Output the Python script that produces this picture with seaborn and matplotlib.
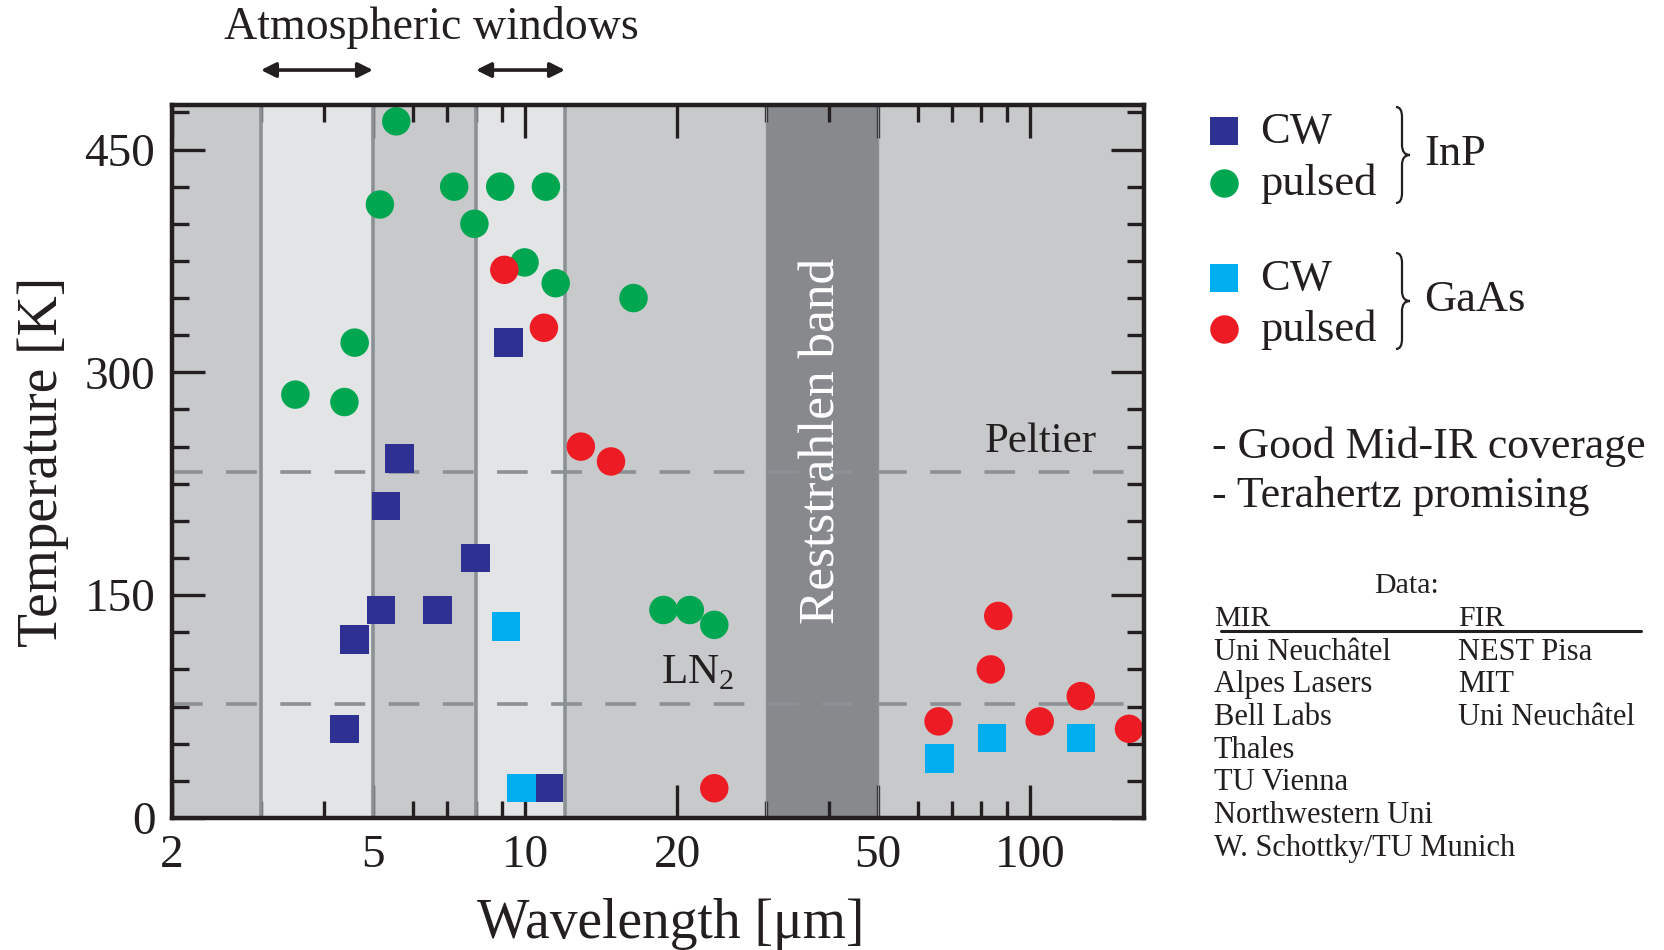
import numpy as np
import pandas as pd
import matplotlib.pyplot as plt
import seaborn as sns
from matplotlib.path import Path
from matplotlib.patches import PathPatch
from matplotlib.ticker import FixedLocator, NullFormatter, LogLocator, FixedFormatter

# ================= DATOS =================
inp_cw_wl = [4.39, 4.6, 5.19, 5.3, 5.64, 6.71, 7.98, 9.28, 11.15]
inp_cw_t = [60, 120, 140, 210, 242, 140, 175, 320, 20]

inp_pulsed_wl = [3.51, 4.39, 4.6, 5.16, 5.56, 7.24, 7.94, 8.93, 9.98, 11.0, 11.5, 16.4, 18.8, 21.2, 23.7]
inp_pulsed_t = [285, 280, 320, 413, 469, 425, 400, 425, 374, 425, 360, 350, 140, 140, 130]

gaas_cw_wl = [9.18, 9.84, 66.2, 84.0, 126.0]
gaas_cw_t = [129, 20, 40, 54, 54]

gaas_pulsed_wl = [9.1, 10.9, 12.9, 14.8, 23.7, 65.9, 86.5, 83.6, 104.5, 126.0, 157.0]
gaas_pulsed_t = [369, 330, 250, 240, 20, 65, 136, 100, 65, 82, 60]

ventanas = [(3, 5), (8, 12)]          # ventanas atmosféricas [µm]
reststrahlen = (30, 50)
t_peltier = 233
t_ln2 = 77

x_ticks = [2, 5, 10, 20, 50, 100]
y_ticks = [0, 150, 300, 450]

mir = ["Uni Neuchâtel", "Alpes Lasers", "Bell Labs", "Thales", "TU Vienna",
       "Northwestern Uni", "W. Schottky/TU Munich"]
fir = ["NEST Pisa", "MIT", "Uni Neuchâtel"]

# ================= COLORES =================
AZUL = "#2E3192"
VERDE = "#00A650"
CELESTE = "#00AEEF"
ROJO = "#ED1C24"
GRIS_BASE = "#C8C9CB"
GRIS_CLARO = "#E3E4E6"
GRIS_OSCURO = "#87898C"
GRIS_LINEA = "#8B9195"
NEGRO = "#231F20"

df = pd.concat([
    pd.DataFrame({"wl": inp_cw_wl, "T": inp_cw_t, "grupo": "InP CW"}),
    pd.DataFrame({"wl": inp_pulsed_wl, "T": inp_pulsed_t, "grupo": "InP pulsed"}),
    pd.DataFrame({"wl": gaas_cw_wl, "T": gaas_cw_t, "grupo": "GaAs CW"}),
    pd.DataFrame({"wl": gaas_pulsed_wl, "T": gaas_pulsed_t, "grupo": "GaAs pulsed"}),
], ignore_index=True)

paleta = {"InP CW": AZUL, "InP pulsed": VERDE, "GaAs CW": CELESTE, "GaAs pulsed": ROJO}
marcadores = {"InP CW": "s", "InP pulsed": "o", "GaAs CW": "s", "GaAs pulsed": "o"}

sns.set_theme(style="ticks")
plt.rcParams["font.family"] = ["Liberation Serif", "DejaVu Serif"]
plt.rcParams["mathtext.fontset"] = "custom"
plt.rcParams["mathtext.rm"] = "Liberation Serif"

fig = plt.figure(figsize=(16.65, 9.5), dpi=100)
ax = fig.add_axes([0.1033, 0.139, 0.5837, 0.7505])
ax.set_facecolor(GRIS_BASE)

ax.set_xscale("log")
ax.set_xlim(2, 168)
ax.set_ylim(0, 480)

# Fondos: ventanas y banda Reststrahlen
for a, b in ventanas:
    ax.axvspan(a, b, color=GRIS_CLARO, zorder=0.5, lw=0)
    for v in (a, b):
        ax.axvline(v, color=GRIS_LINEA, lw=2.6, zorder=1)
ax.axvspan(*reststrahlen, color=GRIS_OSCURO, zorder=0.5, lw=0)
for v in reststrahlen:
    ax.axvline(v, color=GRIS_LINEA, lw=1.0, zorder=1)

for t in (t_peltier, t_ln2):
    ax.axhline(t, color=GRIS_LINEA, lw=2.6, ls=(0, (8.5, 6.5)), zorder=1.5)

ax.text(np.sqrt(reststrahlen[0] * reststrahlen[1]), 254, "Reststrahlen band",
        rotation=90, color="white", fontsize=37, ha="center", va="center", zorder=1.2)
ax.text(105, 253, "Peltier", fontsize=31, ha="center", va="center", color=NEGRO)
ax.text(22, 98, r"LN$_\mathrm{2}$", fontsize=31, ha="center", va="center", color=NEGRO)

# Puntos
sns.scatterplot(data=df, x="wl", y="T", hue="grupo", style="grupo", palette=paleta,
                markers=marcadores, s=420, linewidth=0, legend=False, ax=ax, zorder=5)

# Ejes y ticks
ax.xaxis.set_major_locator(FixedLocator(x_ticks))
ax.xaxis.set_major_formatter(FixedFormatter([str(v) for v in x_ticks]))
ax.xaxis.set_minor_locator(LogLocator(base=10, subs=np.arange(2, 10)))
ax.xaxis.set_minor_formatter(NullFormatter())
ax.yaxis.set_major_locator(FixedLocator(y_ticks))
ax.yaxis.set_minor_locator(FixedLocator(np.arange(0, 480, 25)))
ax.tick_params(which="both", direction="in", top=True, right=True, width=2.4, color=NEGRO)
ax.tick_params(which="major", length=24, labelsize=34, pad=12, labelcolor=NEGRO)
ax.tick_params(which="minor", length=12)
for s in ax.spines.values():
    s.set_linewidth(3.2)
    s.set_color(NEGRO)
    s.set_zorder(6)

ax.set_xlabel("Wavelength [μm]", fontsize=40, color=NEGRO)
ax.set_ylabel("Temperature [K]", fontsize=40, color=NEGRO)
ax.xaxis.set_label_coords(0.513, -0.112)
ax.yaxis.set_label_coords(-0.106, 0.5)

# Ventanas atmosféricas (flechas)
trans = ax.get_xaxis_transform()
for a, b in ventanas:
    ax.annotate("", xy=(a, 1.049), xytext=(b, 1.049), xycoords=trans, textcoords=trans,
                arrowprops=dict(arrowstyle="<|-|>", color=NEGRO, lw=2.6,
                                mutation_scale=22, shrinkA=0, shrinkB=0))
ax.text(6.52, 1.108, "Atmospheric windows", transform=trans, fontsize=33,
        ha="center", va="center", color=NEGRO)

# ================= LEYENDA Y TEXTOS (capa en píxeles) =================
capa = fig.add_axes([0, 0, 1, 1], facecolor="none")
capa.set_xlim(0, 1665)
capa.set_ylim(950, 0)
capa.axis("off")


def llave(x, yt, yb, w=8):
    ym = (yt + yb) / 2
    verts = [(x - 6, yt), (x, yt), (x, yt + 10), (x, ym - 10), (x, ym), (x + w, ym),
             (x, ym), (x, ym + 10), (x, yb - 10), (x, yb), (x - 6, yb)]
    codes = [Path.MOVETO, Path.CURVE3, Path.CURVE3, Path.LINETO, Path.CURVE3, Path.CURVE3,
             Path.CURVE3, Path.CURVE3, Path.LINETO, Path.CURVE3, Path.CURVE3]
    capa.add_patch(PathPatch(Path(verts, codes), fc="none", ec=NEGRO, lw=1.6))


leyenda = [("CW", AZUL, "s", 131), ("pulsed", VERDE, "o", 183),
           ("CW", CELESTE, "s", 278), ("pulsed", ROJO, "o", 329)]
for txt, col, m, y in leyenda:
    capa.scatter([1224], [y], s=420, marker=m, color=col, linewidth=0)
    capa.text(1260, y + 1, txt, fontsize=32, va="center", ha="left", color=NEGRO)

llave(1402, 107, 203)
llave(1402, 253, 349)
capa.text(1424, 154, "InP", fontsize=32, va="center", color=NEGRO)
capa.text(1424, 300, "GaAs", fontsize=32, va="center", color=NEGRO)

capa.text(1212, 447, "- Good Mid-IR coverage", fontsize=31.5, va="center", color=NEGRO)
capa.text(1212, 496, "- Terahertz promising", fontsize=31.5, va="center", color=NEGRO)

capa.text(1407, 586, "Data:", fontsize=21.5, ha="center", va="center", color=NEGRO)
capa.text(1214, 619, "MIR", fontsize=21.5, va="center", color=NEGRO)
capa.text(1458, 619, "FIR", fontsize=21.5, va="center", color=NEGRO)
capa.plot([1221, 1641], [631, 631], color=NEGRO, lw=2.2)
for i, nombre in enumerate(mir):
    capa.text(1214, 652 + 32.7 * i, nombre, fontsize=22, va="center", color=NEGRO)
for i, nombre in enumerate(fir):
    capa.text(1458, 652 + 32.7 * i, nombre, fontsize=22, va="center", color=NEGRO)

fig.savefig("out.png", dpi=100)
